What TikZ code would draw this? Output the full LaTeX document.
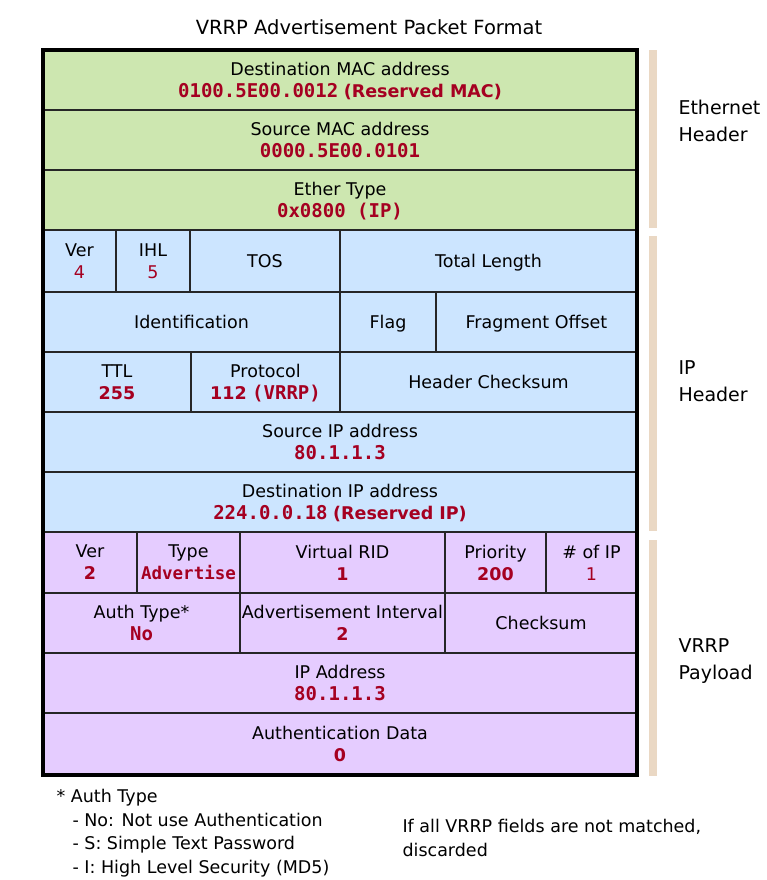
\documentclass[tikz,border=0pt]{standalone}
\usepackage{fontspec}
\usepackage{tikz}
\setmainfont{DejaVu Sans}
\newfontfamily\valfont{DejaVu Sans Mono}

\definecolor{ethgreen}{RGB}{205,231,176}
\definecolor{ipblue}{RGB}{204,229,255}
\definecolor{vrrppurple}{RGB}{229,204,255}
\definecolor{valred}{RGB}{165,0,33}
\definecolor{sidebar}{RGB}{234,216,196}

\newcommand{\val}[1]{\textcolor{valred}{\valfont\bfseries\fontsize{19}{22}\selectfont #1}}
\newcommand{\valb}[1]{\textcolor{valred}{\bfseries #1}}

\begin{document}
\begin{tikzpicture}[x=1pt,y=-1pt,
    cell/.style={draw=black!85, line width=1.2pt, inner sep=0pt, outer sep=0pt,
      text depth=-9pt, anchor=north west, align=center, font=\fontsize{17.5}{22}\selectfont},
    eth/.style={cell, fill=ethgreen},
    ipf/.style={cell, fill=ipblue},
    vrp/.style={cell, fill=vrrppurple},
    side/.style={anchor=west, align=left, font=\fontsize{19}{27}\selectfont},
    note/.style={anchor=north west, align=left, font=\fontsize{17.5}{23.5}\selectfont}]
\useasboundingbox (0,0) rectangle (767,880);

\node[font=\fontsize{19.5}{22}\selectfont] (title) at (369,27) {VRRP Advertisement Packet Format};

% ethernet header
\node[eth, minimum width=594pt, minimum height=60pt] (dmac) at (43,50)
  {Destination MAC address\\\val{0100.5E00.0012}\ \valb{(Reserved MAC)}};
\node[eth, minimum width=594pt, minimum height=60pt] (smac) at (43,110)
  {Source MAC address\\\val{0000.5E00.0101}};
\node[eth, minimum width=594pt, minimum height=60pt] (etype) at (43,170)
  {Ether Type\\\val{0x0800 (IP)}};

% ip header
\node[ipf, minimum width=73pt, minimum height=62pt] (ipver) at (43,230)
  {Ver\\\textcolor{valred}{4}};
\node[ipf, minimum width=74pt, minimum height=62pt] (ihl) at (116,230)
  {IHL\\\textcolor{valred}{5}};
\node[ipf, minimum width=150pt, minimum height=62pt] (tos) at (190,230) {TOS};
\node[ipf, minimum width=297pt, minimum height=62pt] (totlen) at (340,230) {Total Length};

\node[ipf, minimum width=297pt, minimum height=60pt] (ident) at (43,292) {Identification};
\node[ipf, minimum width=96pt, minimum height=60pt] (flag) at (340,292) {Flag};
\node[ipf, minimum width=201pt, minimum height=60pt] (fragoff) at (436,292) {Fragment Offset};

\node[ipf, minimum width=148pt, minimum height=60pt] (ttl) at (43,352)
  {TTL\\\valb{255}};
\node[ipf, minimum width=149pt, minimum height=60pt] (proto) at (191,352)
  {Protocol\\\valb{112}\ \val{(VRRP)}};
\node[ipf, minimum width=297pt, minimum height=60pt] (hcsum) at (340,352) {Header Checksum};

\node[ipf, minimum width=594pt, minimum height=60pt] (srcip) at (43,412)
  {Source IP address\\\val{80.1.1.3}};
\node[ipf, minimum width=594pt, minimum height=60pt] (dstip) at (43,472)
  {Destination IP address\\\val{224.0.0.18}\ \valb{(Reserved IP)}};

% vrrp payload
\node[vrp, minimum width=94pt, minimum height=61pt] (vver) at (43,532)
  {Ver\\\valb{2}};
\node[vrp, minimum width=103pt, minimum height=61pt] (vtype) at (137,532)
  {Type\\\textcolor{valred}{\valfont\bfseries\fontsize{17.5}{20}\selectfont Advertise}};
\node[vrp, minimum width=205pt, minimum height=61pt] (vrid) at (240,532)
  {Virtual RID\\\valb{1}};
\node[vrp, minimum width=101pt, minimum height=61pt] (prio) at (445,532)
  {Priority\\\valb{200}};
\node[vrp, minimum width=91pt, minimum height=61pt] (numip) at (546,532)
  {\# of IP\\\textcolor{valred}{1}};

\node[vrp, minimum width=197pt, minimum height=60pt] (authtype) at (43,593)
  {Auth Type*\\\val{No}};
\node[vrp, minimum width=205pt, minimum height=60pt] (advint) at (240,593)
  {Advertisement Interval\\\valb{2}};
\node[vrp, minimum width=192pt, minimum height=60pt] (vcsum) at (445,593) {Checksum};

\node[vrp, minimum width=594pt, minimum height=60pt] (ipaddr) at (43,653)
  {IP Address\\\val{80.1.1.3}};
\node[vrp, minimum width=594pt, minimum height=62pt] (authdata) at (43,713)
  {Authentication Data\\\valb{0}};

% outer frame
\draw[line width=3.5pt] (dmac.north west) rectangle (authdata.south east);

% side bars and labels
\fill[sidebar] (649,50) rectangle (657,228);
\fill[sidebar] (649,236) rectangle (657,531);
\fill[sidebar] (649,540) rectangle (657,776);
\node[side] (ethlbl) at (675,121) {Ethernet\\Header};
\node[side] (iplbl) at (675,381) {IP\\Header};
\node[side] (vrrplbl) at (675,661) {VRRP\\Payload};

% notes
\node[note] (authnote) at (53,786) {* Auth Type\\
  \hspace*{16pt}- No: Not use Authentication\\
  \hspace*{16pt}- S: Simple Text Password\\
  \hspace*{16pt}- I: High Level Security (MD5)};
\node[note] (dropnote) at (399,816) {If all VRRP fields are not matched,\\discarded};
\end{tikzpicture}
\end{document}
